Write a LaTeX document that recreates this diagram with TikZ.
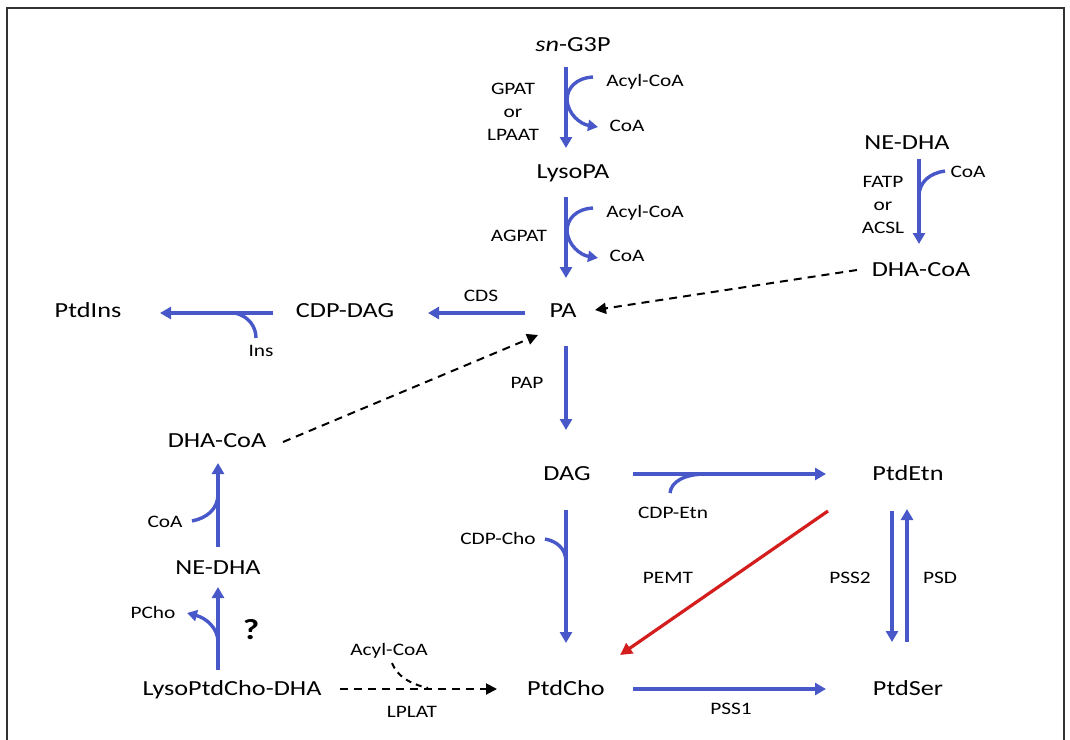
\documentclass[tikz,border=0pt]{standalone}
\usepackage{fontspec}
\setmainfont{Carlito}[FakeStretch=1.22]
\usetikzlibrary{arrows.meta}
\definecolor{pblue}{RGB}{72,88,200}
\definecolor{pred}{RGB}{212,30,30}
\begin{document}
\begin{tikzpicture}[x=1pt,y=-1pt,
  met/.style={font=\fontsize{21.5}{24}\selectfont, text height=0.64em, text depth=0em, inner sep=0pt, yshift=-3pt},
  lab/.style={font=\fontsize{17.5}{23}\selectfont, text height=0.64em, text depth=0em, inner sep=0pt, yshift=-2pt},
  labm/.style={font=\fontsize{17.5}{23}\selectfont, inner sep=0pt, align=center, yshift=-2pt},
  flow/.style={draw=pblue, line width=3.4pt, -{Triangle[length=11pt,width=12pt]}},
  side/.style={draw=pblue, line width=3.4pt},
  sidearr/.style={draw=pblue, line width=3.4pt, -{Triangle[length=10pt,width=11pt]}},
  redflow/.style={draw=pred, line width=3.2pt, -{Triangle[length=12pt,width=12pt]}},
  dflow/.style={draw=black, line width=2pt, dash pattern=on 8pt off 6pt, -{Triangle[length=11pt,width=11pt]}},
  dside/.style={draw=black, line width=2pt, dash pattern=on 6pt off 5pt}]
\useasboundingbox (0,0) rectangle (1070,739);
\draw[line width=2pt, black!80] (7,745) -- (7,8) -- (1064,8) -- (1064,745);

% metabolites
\node[met] (g3p) at (573,45) {\textit{sn}-G3P};
\node[met] (lpa) at (573,172) {LysoPA};
\node[met] (pa) at (563,311) {PA};
\node[met] (cdpdag) at (345,311) {CDP-DAG};
\node[met] (ptdins) at (88,311) {PtdIns};
\node[met] (nedhaR) at (907,143) {NE-DHA};
\node[met] (dhacoaR) at (921,270) {DHA-CoA};
\node[met] (dag) at (567,474) {DAG};
\node[met] (ptdetn) at (908,474) {PtdEtn};
\node[met] (ptdcho) at (566,689) {PtdCho};
\node[met] (ptdser) at (908,689) {PtdSer};
\node[met] (lpcdha) at (232,689) {LysoPtdCho-DHA};
\node[met] (nedhaL) at (218,568) {NE-DHA};
\node[met] (dhacoaL) at (217,441) {DHA-CoA};

% labels
\node[labm] (gpat) at (513,110) {GPAT\\or\\LPAAT};
\node[lab] (acyl1) at (645,81) {Acyl-CoA};
\node[lab] (coa1) at (627,126) {CoA};
\node[lab] (acyl2) at (645,212) {Acyl-CoA};
\node[lab] (coa2) at (627,256) {CoA};
\node[lab] (agpat) at (519,236) {AGPAT};
\node[lab] (cds) at (481,296) {CDS};
\node[lab] (ins) at (261,351) {Ins};
\node[labm] (fatp) at (883,203) {FATP\\or\\ACSL};
\node[lab] (coaR) at (968,172) {CoA};
\node[lab] (pap) at (527,383) {PAP};
\node[lab] (cdpetn) at (673,513) {CDP-Etn};
\node[lab] (cdpcho) at (498,539) {CDP-Cho};
\node[lab] (pemt) at (668,578) {PEMT};
\node[lab] (pss2) at (850,578) {PSS2};
\node[lab] (psd) at (940,578) {PSD};
\node[lab] (pss1) at (731,709) {PSS1};
\node[lab] (acyl3) at (389,650) {Acyl-CoA};
\node[lab] (lplat) at (412,712) {LPLAT};
\node[lab] (pcho) at (153,613) {PCho};
\node[lab] (coaL) at (165,522) {CoA};
\node[font=\fontsize{29}{30}\selectfont\bfseries, inner sep=0pt] (q) at (251,630) {?};

% arrow end points
\coordinate (a1s) at (566,67);   \coordinate (a1e) at (566,148);
\coordinate (a2s) at (566,197);  \coordinate (a2e) at (566,278);
\coordinate (cdss) at (525,313); \coordinate (cdse) at (428,313);
\coordinate (piss) at (273,313); \coordinate (pise) at (160,313);
\coordinate (fas) at (919,159);  \coordinate (fae) at (919,244);
\coordinate (drs) at (857,270);  \coordinate (dre) at (595,310);
\coordinate (paps) at (566,346); \coordinate (pape) at (566,430);
\coordinate (etns) at (633,474); \coordinate (etne) at (826,474);
\coordinate (chos) at (566,510); \coordinate (choe) at (566,643);
\coordinate (pems) at (828,511); \coordinate (peme) at (620,655);
\coordinate (ps2s) at (892,511); \coordinate (ps2e) at (892,642);
\coordinate (psds) at (907,642); \coordinate (psde) at (907,509);
\coordinate (ps1s) at (633,689); \coordinate (ps1e) at (826,689);
\coordinate (lps) at (340,689);  \coordinate (lpe) at (497,689);
\coordinate (l1s) at (218,670);  \coordinate (l1e) at (218,587);
\coordinate (l2s) at (218,547);  \coordinate (l2e) at (218,463);
\coordinate (dls) at (283,442);  \coordinate (dle) at (538,335);

% main arrows
\draw[flow] (a1s) -- (a1e);
\draw[flow] (a2s) -- (a2e);
\draw[flow] (cdss) -- (cdse);
\draw[flow] (piss) -- (pise);
\draw[flow] (fas) -- (fae);
\draw[flow] (paps) -- (pape);
\draw[flow] (etns) -- (etne);
\draw[flow] (chos) -- (choe);
\draw[flow] (ps2s) -- (ps2e);
\draw[flow] (psds) -- (psde);
\draw[flow] (ps1s) -- (ps1e);
\draw[flow] (l1s) -- (l1e);
\draw[flow] (l2s) -- (l2e);
\draw[redflow] (pems) -- (peme);
\draw[dflow] (drs) -- (dre);
\draw[dflow] (dls) -- (dle);
\draw[dflow] (lps) -- (lpe);

% side branches
\draw[sidearr] (593,77) .. controls (576,78) and (567,88) .. (567,100) .. controls (568,114) and (580,124) .. (598,127);
\draw[sidearr] (593,208) .. controls (576,209) and (567,219) .. (567,231) .. controls (568,245) and (580,255) .. (598,258);
\draw[side] (945,171) .. controls (930,173) and (919,182) .. (919,196);
\draw[side] (235,313) .. controls (248,316) and (256,326) .. (256,338);
\draw[side] (670,493) .. controls (671,482) and (684,474) .. (706,474);
\draw[side] (545,539) .. controls (556,541) and (566,548) .. (566,562);
\draw[side] (192,521) .. controls (207,518) and (218,509) .. (218,494);
\draw[sidearr] (218,642) .. controls (218,628) and (206,618) .. (187,613);
\draw[dside] (392,663) .. controls (397,676) and (410,684) .. (428,688);
\end{tikzpicture}
\end{document}
